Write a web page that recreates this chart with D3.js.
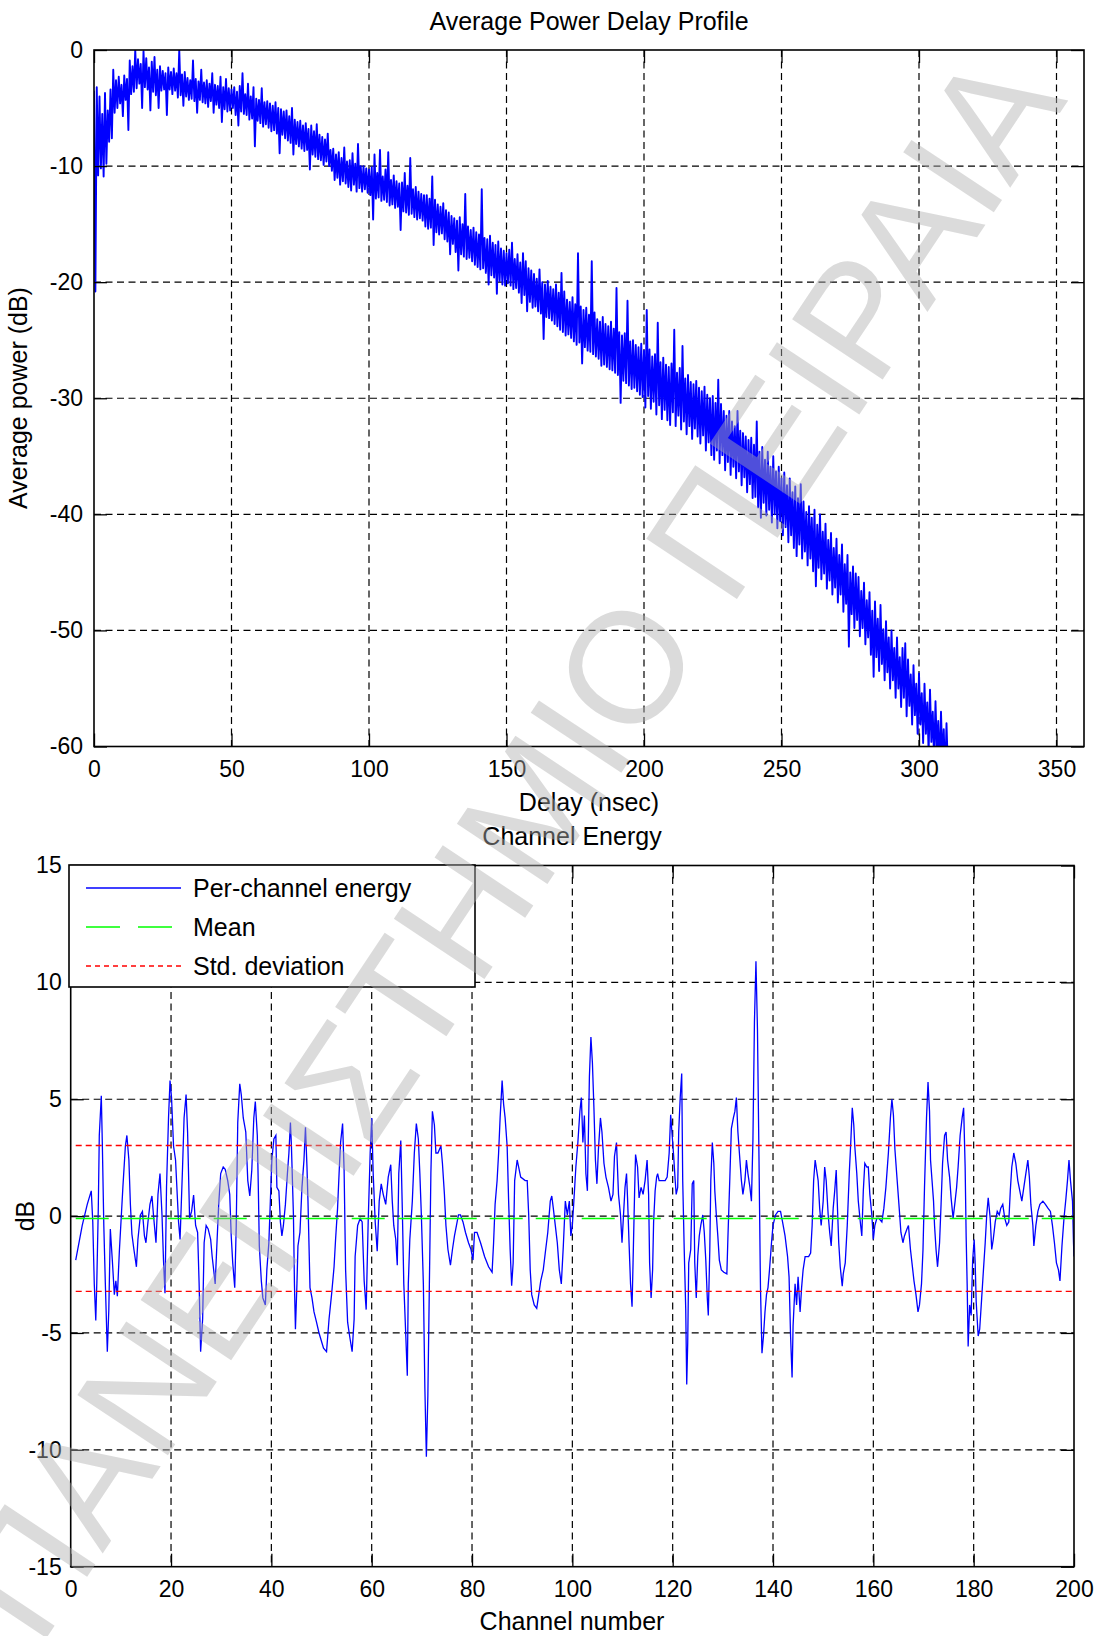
<!DOCTYPE html>
<html>
<head>
<meta charset="utf-8">
<script src="https://cdn.jsdelivr.net/npm/d3@7"></script>
<style>
  body { margin: 0; background: #fff; }
  svg { display: block; }
  text { font-family: "Liberation Sans", Arial, sans-serif; fill: #000; }
</style>
</head>
<body>
<svg id="fig" width="1096" height="1636"></svg>
<script>
// ---------- Average power delay profile: per-nanosecond upper / lower trace values (dB) ----------
const pdpHigh = [
  -3.5,-3.2,-4.0,-5.5,-3.7,-5.2,-3.4,-1.7,-2.6,-2.3, -3.0,-2.2,-2.5,-0.9,-1.4,0.0,-0.8,-1.2,-0.1,-0.7,
  -1.5,-1.0,-0.6,-1.7,-1.4,-1.8,-2.0,-1.5,-1.9,-1.6, -2.0,0.0,-2.1,-1.9,-2.4,-2.6,-0.9,-2.5,-2.7,-1.7,
  -2.8,-2.6,-2.9,-2.0,-3.0,-3.1,-2.3,-3.2,-2.5,-3.3, -3.4,-3.2,-3.6,-3.1,-2.0,-3.8,-2.9,-4.0,-3.2,-4.2,
  -4.3,-3.3,-4.5,-4.4,-4.6,-4.8,-4.5,-5.0,-5.1,-5.3, -5.2,-5.7,-5.0,-6.0,-6.2,-6.1,-6.5,-6.3,-6.8,-6.5,
  -7.0,-6.4,-7.3,-7.5,-7.7,-7.2,-8.6,-8.5,-9.0,-8.8, -9.3,-8.4,-9.6,-9.5,-8.9,-9.8,-8.1,-10.0,-10.0,-10.2,
  -10.3,-10.1,-9.0,-10.6,-8.6,-10.9,-10.3,-8.8,-11.2,-10.8, -11.3,-11.5,-11.4,-10.6,-11.7,-9.3,-12.0,-11.8,-12.2,-12.4,
  -12.5,-12.5,-12.8,-10.9,-12.9,-13.3,-13.5,-13.2,-13.8,-14.0, -14.3,-14.5,-14.7,-14.4,-15.0,-12.4,-15.2,-15.5,-15.3,-15.7,
  -15.9,-12.0,-16.2,-16.3,-16.0,-16.6,-16.8,-16.5,-17.1,-17.3, -17.5,-17.2,-16.6,-18.0,-17.6,-18.3,-17.5,-18.2,-18.8,-19.0,
  -19.3,-19.7,-18.9,-20.0,-20.2,-19.9,-20.4,-20.6,-20.2,-20.9, -19.2,-20.8,-21.5,-21.7,-21.3,-21.9,-17.5,-22.1,-22.4,-22.2,
  -22.8,-18.2,-22.6,-23.2,-23.4,-23.0,-23.6,-23.8,-23.4,-24.0, -20.5,-24.3,-24.6,-24.4,-21.6,-25.1,-25.0,-25.4,-25.6,-25.3,
  -25.9,-22.4,-25.8,-26.4,-26.2,-23.5,-26.9,-26.5,-27.1,-27.3, -27.0,-24.1,-27.8,-27.4,-25.5,-28.3,-28.0,-28.6,-28.8,-28.5,
  -29.1,-29.4,-29.0,-29.7,-30.0,-29.8,-30.4,-28.4,-30.5,-31.1, -31.5,-31.1,-32.0,-32.4,-31.1,-32.8,-33.0,-33.3,-33.6,-33.4,
  -34.0,-32.0,-34.6,-34.2,-35.3,-34.6,-35.9,-35.0,-36.3,-35.9, -36.9,-36.4,-37.5,-36.9,-38.1,-37.6,-38.6,-37.4,-38.9,-39.8,
  -39.3,-40.3,-39.6,-40.9,-40.0,-41.5,-40.8,-42.2,-41.6,-42.9, -42.1,-43.5,-42.6,-44.3,-43.5,-45.0,-44.5,-45.1,-45.4,-46.6,
  -45.9,-47.4,-46.7,-48.3,-47.5,-49.0,-47.8,-49.9,-49.2,-50.6, -50.0,-51.5,-50.6,-52.3,-51.5,-51.1,-52.5,-53.8,-53.0,-54.6,
  -53.7,-55.4,-54.6,-56.2,-55.1,-57.0,-56.1,-57.8,-57.0,-58.5, -58.0
];
const pdpLow = [
  -20.8,-10.8,-10.2,-10.9,-9.8,-7.9,-7.6,-5.4,-5.0,-4.6, -5.7,-4.3,-6.9,-3.8,-3.6,-3.3,-2.9,-5.0,-3.2,-3.4,
  -5.2,-3.6,-3.9,-5.0,-3.5,-3.4,-5.6,-3.4,-3.8,-3.5, -4.1,-3.9,-4.8,-4.0,-4.3,-4.2,-4.4,-5.4,-4.3,-4.5,
  -4.6,-4.9,-4.4,-5.4,-4.7,-5.0,-6.2,-5.1,-5.3,-5.2, -5.0,-5.6,-6.5,-5.3,-5.5,-5.6,-6.0,-5.9,-8.3,-6.1,
  -6.3,-6.6,-6.4,-6.7,-7.0,-6.9,-7.2,-8.9,-7.3,-7.6, -7.8,-8.0,-9.0,-8.1,-8.3,-8.5,-8.7,-8.6,-10.3,-9.0,
  -9.2,-9.4,-9.5,-9.9,-9.6,-10.0,-10.4,-11.2,-11.0,-11.6, -11.3,-11.5,-11.8,-12.1,-11.6,-12.2,-11.9,-12.2,-12.0,-12.3,
  -12.5,-14.6,-12.8,-12.7,-13.0,-12.9,-13.1,-13.4,-13.3,-13.6, -13.5,-15.5,-13.9,-14.0,-14.2,-14.1,-14.4,-14.6,-14.5,-14.7,
  -15.2,-15.4,-15.3,-16.8,-15.7,-15.9,-15.8,-16.3,-16.5,-17.6, -16.7,-17.4,-19.0,-17.6,-17.8,-18.0,-17.9,-18.2,-18.5,-18.7,
  -18.9,-18.8,-19.2,-20.2,-19.4,-19.6,-21.0,-19.9,-20.2,-20.3, -20.1,-20.3,-20.6,-20.5,-20.9,-21.8,-21.1,-22.5,-21.7,-22.2,
  -22.1,-22.5,-22.7,-24.9,-23.0,-23.1,-23.3,-23.6,-23.8,-24.1, -24.3,-24.6,-24.5,-24.8,-25.1,-25.4,-25.2,-27.0,-25.6,-25.9,
  -26.0,-26.2,-26.4,-26.6,-27.2,-27.1,-27.3,-27.5,-27.6,-27.8, -28.0,-30.4,-28.5,-28.7,-28.9,-29.2,-29.1,-29.4,-29.7,-29.9,
  -30.8,-29.8,-30.9,-30.3,-31.4,-30.6,-31.8,-31.0,-31.9,-32.3, -31.2,-32.4,-31.5,-32.7,-32.0,-33.1,-32.4,-33.5,-32.6,-33.3,
  -33.9,-33.2,-34.5,-33.8,-34.9,-35.3,-34.5,-35.6,-34.9,-36.2, -35.5,-36.6,-35.9,-36.9,-36.3,-37.5,-36.8,-38.1,-37.4,-38.6,
  -38.5,-39.4,-40.3,-39.0,-40.1,-39.6,-40.7,-40.0,-41.2,-40.6, -41.8,-41.1,-42.4,-41.8,-42.9,-43.6,-42.6,-43.8,-43.2,-44.4,
  -43.8,-44.9,-46.2,-44.6,-45.6,-45.1,-46.4,-45.7,-46.9,-46.3, -47.6,-46.9,-48.4,-47.7,-51.4,-48.6,-49.8,-49.1,-50.5,-49.8,
  -51.2,-50.6,-52.1,-54.0,-52.3,-53.5,-52.9,-54.3,-53.6,-55.0, -54.3,-55.8,-55.0,-56.6,-55.8,-57.4,-56.5,-58.1,-57.3,-58.9,
  -58.1,-59.7,-58.9,-60.5,-59.6,-61.2,-60.4,-62.0,-61.2,-62.8, -62.0
];
const delayTicks = [0, 50, 100, 150, 200, 250, 300, 350];
const powerTicks = [-60, -50, -40, -30, -20, -10, 0];

// ---------- Channel energy: [channel, dB] ----------
const channelEnergy = [
  [1.0,-1.88],[2.3,-0.4],[3.3,0.5],[4.1,1.08],[4.4,-0.25],[4.7,-2.9],[5.0,-4.47],[5.2,-2.85],[5.5,0.34],[5.7,3.45],
  [6.1,5.15],[6.3,3.15],[6.6,-0.4],[6.9,-2.85],[7.3,-5.8],[7.6,-4.0],[7.9,-0.55],[8.3,-1.9],[8.7,-3.36],[9.0,-2.77],
  [9.3,-3.43],[9.7,-1.5],[10.1,0.05],[10.4,1.23],[10.9,3.0],[11.2,3.45],[11.6,2.4],[11.9,0.5],[12.2,-0.77],[12.6,-1.43],
  [13.1,-2.17],[13.4,-1.0],[13.9,0.05],[14.3,0.2],[14.7,-0.85],[15.0,-1.14],[15.4,-0.25],[15.8,0.5],[16.2,0.86],[16.5,0.05],
  [17.0,-1.14],[17.4,0.93],[17.8,1.82],[18.2,0.05],[18.5,-1.9],[18.8,-3.3],[19.1,1.23],[19.5,4.2],[19.8,5.8],[20.1,5.07],
  [20.5,3.0],[20.9,2.4],[21.5,-0.25],[21.8,-1.0],[22.3,2.1],[22.6,4.2],[23.0,5.2],[23.3,3.6],[23.7,-0.1],[24.1,0.2],
  [24.5,0.9],[24.9,-0.4],[25.3,-0.7],[25.6,-2.9],[25.9,-5.8],[26.3,-4.4],[26.6,-1.14],[27.0,-0.4],[27.4,-0.55],[27.9,-1.0],
  [28.2,-1.73],[28.6,-2.5],[28.8,-2.9],[29.1,-1.43],[29.5,0.5],[29.9,1.82],[30.4,2.1],[30.8,2.0],[31.3,1.52],[31.7,0.93],
  [32.0,-0.85],[32.3,-2.0],[32.7,-3.06],[33.0,-0.4],[33.3,4.0],[33.7,5.66],[34.0,5.2],[34.4,4.2],[34.9,3.6],[35.3,1.52],
  [35.7,0.86],[36.1,1.97],[36.5,4.2],[36.8,4.9],[37.2,3.45],[37.4,1.23],[37.6,-1.28],[38.0,-2.77],[38.3,-3.5],[38.8,-3.8],
  [39.1,-2.3],[39.5,-1.14],[39.8,0.64],[40.1,2.4],[40.5,3.3],[40.9,3.45],[41.1,1.23],[41.5,1.08],[41.8,-0.25],[42.1,-0.85],
  [42.4,-0.4],[42.8,0.5],[43.2,1.82],[43.5,2.7],[43.8,4.0],[44.0,3.0],[44.4,0.05],[44.6,-2.9],[44.8,-4.84],[45.1,-2.9],
  [45.3,-1.28],[45.7,-0.7],[46.1,1.23],[46.5,2.4],[46.8,3.8],[47.1,2.1],[47.3,0.64],[47.7,-3.06],[48.1,-3.5],[48.5,-4.1],
  [49.0,-4.54],[49.5,-5.0],[50.4,-5.65],[51.0,-5.8],[51.5,-4.4],[52.0,-3.36],[52.5,-2.17],[52.8,-1.0],[53.2,0.34],[53.5,1.82],
  [53.8,3.15],[54.2,3.96],[54.5,1.97],[54.8,-2.3],[55.2,-4.54],[55.6,-5.13],[56.1,-5.8],[56.5,-4.4],[56.7,-1.73],[57.2,-0.4],
  [57.7,-0.1],[58.1,-0.25],[58.5,-2.77],[58.9,-4.0],[59.3,-0.25],[59.7,2.7],[60.0,4.2],[60.3,1.82],[60.7,-0.25],[61.1,-1.5],
  [61.5,0.64],[61.9,1.38],[62.3,0.93],[62.8,0.5],[63.3,1.67],[63.8,2.2],[64.1,0.64],[64.4,-0.4],[64.8,-1.0],[65.1,-2.1],
  [65.4,1.82],[65.8,3.23],[66.1,0.34],[66.4,-2.9],[66.8,-5.13],[67.1,-6.83],[67.3,-2.9],[67.6,-1.0],[68.1,0.64],[68.5,2.7],
  [68.9,3.96],[69.3,3.3],[69.6,1.82],[69.9,0.05],[70.3,-2.9],[70.6,-7.35],[70.9,-10.3],[71.2,-7.65],[71.5,-2.9],[71.8,1.82],
  [72.1,4.48],[72.5,3.9],[72.8,2.7],[73.2,2.7],[73.8,3.0],[74.1,2.26],[74.5,0.93],[74.8,-0.4],[75.2,-1.43],[75.7,-2.1],
  [76.1,-1.43],[76.5,-0.85],[76.9,-0.4],[77.3,0.05],[77.7,0.05],[78.2,-0.25],[78.7,-0.7],[79.3,-1.14],[79.8,-1.43],[80.2,-1.88],
  [80.5,-0.7],[81.0,-0.7],[81.7,-1.14],[82.5,-1.73],[83.3,-2.17],[84.0,-2.4],[84.3,-1.14],[84.6,0.5],[85.0,1.52],[85.3,2.7],
  [85.6,4.2],[86.0,5.8],[86.3,4.78],[86.6,4.2],[87.0,3.0],[87.3,0.64],[87.6,-1.43],[87.9,-2.98],[88.2,-2.0],[88.5,1.52],
  [89.0,2.4],[89.3,2.1],[89.7,1.67],[90.6,1.52],[91.0,1.52],[91.3,0.05],[91.6,-2.3],[91.9,-3.36],[92.4,-3.8],[92.9,-3.95],
  [93.3,-3.36],[93.7,-2.77],[94.2,-2.3],[94.6,-1.58],[95.1,-0.7],[95.6,0.64],[95.9,0.86],[96.2,0.34],[96.6,-0.4],[97.0,-1.14],
  [97.4,-2.3],[97.8,-2.9],[98.2,-1.28],[98.6,0.64],[99.0,0.05],[99.4,0.64],[99.7,-0.85],[100.0,-0.4],[100.3,0.64],[100.7,2.1],
  [101.1,3.15],[101.5,4.48],[101.8,5.07],[102.1,3.15],[102.4,4.3],[102.7,1.82],[103.0,1.08],[103.4,5.96],[103.7,7.66],[104.0,6.55],
  [104.3,4.63],[104.6,2.4],[104.9,1.38],[105.2,2.86],[105.6,4.2],[105.9,3.6],[106.3,2.26],[106.7,1.67],[107.2,1.23],[107.7,0.64],
  [108.1,0.93],[108.4,2.56],[108.8,3.15],[109.2,0.93],[109.6,0.05],[109.9,-1.14],[110.2,0.05],[110.5,1.23],[110.8,1.82],[111.0,0.78],
  [111.3,-1.14],[111.6,-2.9],[111.9,-3.88],[112.1,-2.0],[112.4,0.93],[112.6,2.63],[113.0,2.1],[113.3,0.78],[113.7,1.23],[114.1,0.93],
  [114.5,1.52],[114.9,2.4],[115.2,0.93],[115.4,-2.0],[115.7,-3.5],[116.0,-2.3],[116.2,-0.25],[116.5,1.08],[116.8,1.67],[117.0,1.82],
  [117.3,1.52],[118.5,1.52],[118.9,1.67],[119.3,2.7],[119.6,4.33],[119.9,3.45],[120.2,2.56],[120.5,1.52],[120.7,0.93],[121.0,1.23],
  [121.2,3.6],[121.5,5.07],[121.8,6.1],[122.0,1.52],[122.3,-1.43],[122.6,-3.95],[122.8,-7.2],[123.0,-5.4],[123.2,-2.0],[123.6,-1.43],
  [123.9,1.38],[124.2,1.52],[124.4,-2.0],[124.7,-3.5],[125.0,-1.73],[125.3,-0.85],[125.6,-0.4],[126.0,0.05],[126.3,-0.7],[126.6,-1.88],
  [126.9,-3.5],[127.1,-4.25],[127.4,-1.43],[127.6,1.52],[127.9,3.15],[128.2,2.26],[128.4,1.08],[128.7,0.05],[129.0,-0.85],[129.3,-1.88],
  [129.7,-2.3],[130.2,-2.4],[130.8,-2.47],[131.0,-1.0],[131.4,1.67],[131.7,3.74],[132.1,4.2],[132.4,4.48],[132.7,5.07],[133.0,3.6],
  [133.4,2.4],[133.7,1.52],[134.0,0.93],[134.4,1.52],[134.7,2.4],[135.0,1.82],[135.4,1.23],[135.7,0.64],[136.0,3.3],[136.3,8.33],
  [136.6,10.9],[136.9,8.0],[137.2,2.56],[137.5,-3.06],[137.8,-5.87],[138.1,-5.13],[138.4,-4.1],[138.7,-3.36],[139.0,-3.06],[139.3,-2.3],
  [139.7,-1.14],[140.0,-0.4],[140.5,0.05],[141.0,0.2],[141.5,0.2],[141.9,-0.25],[142.4,-0.85],[142.9,-1.73],[143.2,-2.6],[143.5,-5.13],
  [143.8,-6.9],[144.0,-4.7],[144.4,-2.9],[144.7,-3.8],[145.0,-2.6],[145.4,-4.1],[145.7,-3.06],[146.0,-2.3],[146.4,-1.73],[146.7,-1.73],
  [147.1,-1.73],[147.5,-1.58],[147.8,-0.4],[148.1,1.52],[148.4,2.4],[148.8,1.82],[149.0,1.52],[149.3,0.34],[149.6,-0.4],[150.0,0.64],
  [150.3,2.1],[150.6,1.52],[151.0,0.05],[151.3,-0.7],[151.6,-1.28],[152.0,0.34],[152.3,1.08],[152.6,1.97],[152.8,0.64],[153.1,-1.14],
  [153.4,-2.17],[153.8,-3.0],[154.0,-2.47],[154.4,-2.0],[154.8,-0.4],[155.2,1.82],[155.5,3.15],[155.8,4.63],[156.1,3.9],[156.3,3.0],
  [156.7,1.82],[157.0,0.64],[157.4,-0.25],[157.7,-0.85],[158.0,1.08],[158.3,2.26],[158.7,2.1],[159.0,2.1],[159.3,0.93],[159.7,0.05],
  [160.0,-1.0],[160.3,-0.4],[160.7,-0.1],[161.1,-0.1],[161.7,-0.25],[162.1,0.34],[162.5,1.23],[163.0,2.7],[163.4,4.2],[163.7,5.0],
  [164.0,4.33],[164.3,2.86],[164.7,1.67],[165.1,0.5],[165.5,-0.7],[165.9,-1.14],[166.2,-0.85],[166.7,-0.55],[167.0,-0.4],[167.4,-1.43],
  [167.7,-2.0],[168.1,-2.77],[168.5,-3.36],[168.9,-4.1],[169.2,-3.8],[169.6,-2.9],[169.9,-1.43],[170.2,1.23],[170.6,4.2],[170.9,5.74],
  [171.2,4.48],[171.4,2.4],[171.7,1.52],[172.0,0.64],[172.2,-0.4],[172.5,-1.43],[172.8,-2.17],[173.2,-1.14],[173.5,0.5],[173.8,2.26],
  [174.2,3.45],[174.5,3.6],[174.8,2.4],[175.2,1.67],[175.5,0.78],[175.9,-0.1],[176.3,0.64],[176.6,1.23],[176.9,2.1],[177.3,3.45],
  [177.7,4.2],[178.0,4.63],[178.3,2.1],[178.5,-0.85],[178.7,-2.9],[178.9,-5.58],[179.2,-3.8],[179.5,-4.25],[179.8,-1.88],[180.1,-1.0],
  [180.3,-2.0],[180.5,-3.65],[180.9,-5.13],[181.2,-4.84],[181.6,-3.5],[181.9,-2.47],[182.3,-1.14],[182.6,0.05],[182.9,0.78],[183.3,-0.1],
  [183.6,-1.43],[183.9,-1.0],[184.3,-0.25],[184.7,0.2],[185.1,0.05],[185.4,0.34],[185.8,0.5],[186.2,-0.1],[186.6,-0.4],[187.0,-0.25],
  [187.3,1.08],[187.6,2.1],[188.0,2.7],[188.4,2.26],[188.8,1.52],[189.2,1.08],[189.6,0.64],[190.0,1.23],[190.4,1.82],[190.8,2.4],
  [191.1,1.67],[191.4,0.5],[191.8,-0.4],[192.0,-1.28],[192.4,-0.4],[192.8,0.2],[193.2,0.5],[193.8,0.64],[194.3,0.5],[194.8,0.34],
  [195.3,0.2],[195.7,-0.4],[196.1,-1.14],[196.5,-2.0],[196.9,-2.3],[197.2,-2.77],[197.6,-1.28],[198.0,-0.1],[198.4,0.78],[198.7,1.52],
  [199.0,2.4],[199.3,1.52],[199.7,0.64],[199.9,-1.14],[200.0,-1.73]
];
const energyMean = -0.1;
const energyStd = 3.12;
const channelTicks = [0, 20, 40, 60, 80, 100, 120, 140, 160, 180, 200];
const dbTicks = [-15, -10, -5, 0, 5, 10, 15];
const legendLabels = ["Per-channel energy", "Mean", "Std. deviation"];
const watermarkText = "ΠΑΝΕΠΙΣΤΗΜΙΟ ΠΕΙΡΑΙΑ";

const svg = d3.select("#fig");
svg.append("rect").attr("width", 1096).attr("height", 1636).attr("fill", "#fff");

const GRID_DASH = "7,4.5";
const TICK = 13;

// Draws a boxed MATLAB-style axes with dashed grid, inward ticks on all sides.
function drawAxes(id, x, y, xTicks, yTicks, opts) {
  const [x0, x1] = x.range();
  const [y0, y1] = y.range(); // y0 bottom, y1 top
  const g = svg.append("g").attr("class", id);

  svg.append("clipPath").attr("id", id + "-clip")
    .append("rect").attr("x", x0).attr("y", y1).attr("width", x1 - x0).attr("height", y0 - y1);

  const grid = g.append("g").attr("stroke", "#000").attr("stroke-width", 1.2)
    .attr("stroke-dasharray", GRID_DASH).attr("fill", "none");
  xTicks.filter(d => d !== x.domain()[0] && d !== x.domain()[1]).forEach(d => {
    grid.append("line").attr("x1", x(d)).attr("x2", x(d)).attr("y1", y1).attr("y2", y0);
  });
  yTicks.filter(d => d !== y.domain()[0] && d !== y.domain()[1]).forEach(d => {
    grid.append("line").attr("x1", x0).attr("x2", x1).attr("y1", y(d)).attr("y2", y(d));
  });

  const plot = g.append("g").attr("clip-path", `url(#${id}-clip)`);
  const frame = g.append("g");

  const fmt = d => String(d);
  const style = sel => {
    sel.select(".domain").remove();
    sel.selectAll(".tick line").attr("stroke", "#000").attr("stroke-width", 1.3);
    sel.selectAll(".tick text").attr("fill", "#000")
      .style("font-family", '"Liberation Sans", Arial, sans-serif').style("font-size", "23px");
  };
  frame.append("g").attr("transform", `translate(0,${y0})`)
    .call(d3.axisBottom(x).tickValues(xTicks).tickSize(-TICK).tickPadding(opts.xPad).tickFormat(fmt)).call(style);
  frame.append("g").attr("transform", `translate(0,${y1})`)
    .call(d3.axisTop(x).tickValues(xTicks).tickSize(-TICK).tickFormat("")).call(style);
  frame.append("g").attr("transform", `translate(${x0},0)`)
    .call(d3.axisLeft(y).tickValues(yTicks).tickSize(-TICK).tickPadding(opts.yPad).tickFormat(fmt)).call(style);
  frame.append("g").attr("transform", `translate(${x1},0)`)
    .call(d3.axisRight(y).tickValues(yTicks).tickSize(-TICK).tickFormat("")).call(style);
  frame.append("rect").attr("x", x0).attr("y", y1).attr("width", x1 - x0).attr("height", y0 - y1)
    .attr("fill", "none").attr("stroke", "#000").attr("stroke-width", 1.6);

  return plot;
}

function label(txt, x, y, rotate) {
  const t = svg.append("text").attr("text-anchor", "middle").attr("font-size", 25).text(txt);
  if (rotate) t.attr("transform", `translate(${x},${y}) rotate(-90)`);
  else t.attr("x", x).attr("y", y);
  return t;
}

// ---------- Top panel: average power delay profile ----------
const xDelay = d3.scaleLinear().domain([0, 360]).range([94, 1084]);
const yPower = d3.scaleLinear().domain([-60, 0]).range([746.5, 50]);
const topPlot = drawAxes("pdp", xDelay, yPower, delayTicks, powerTicks, { xPad: 14, yPad: 11 });

// Each nanosecond bin contributes its upper then lower excursion.
const pdpPoints = [];
pdpHigh.forEach((hi, i) => {
  pdpPoints.push([i, hi]);
  pdpPoints.push([i + 0.5, pdpLow[i]]);
});
topPlot.append("path").datum(pdpPoints)
  .attr("fill", "none").attr("stroke", "#0000ff").attr("stroke-width", 1.9).attr("stroke-linejoin", "round")
  .attr("d", d3.line().x(d => xDelay(d[0])).y(d => yPower(d[1])));

label("Average Power Delay Profile", 589, 30);
label("Delay (nsec)", 589, 811);
label("Average power (dB)", 27, 398, true);

// ---------- Bottom panel: channel energy ----------
const xChan = d3.scaleLinear().domain([0, 200]).range([70.7, 1074]);
const yDb = d3.scaleLinear().domain([-15, 15]).range([1566.7, 865.5]);
const botPlot = drawAxes("energy", xChan, yDb, channelTicks, dbTicks, { xPad: 14, yPad: 9 });

botPlot.append("path").datum(channelEnergy)
  .attr("fill", "none").attr("stroke", "#0000ff").attr("stroke-width", 1.3)
  .attr("d", d3.line().x(d => xChan(d[0])).y(d => yDb(d[1])));

const chanSpan = [channelEnergy[0][0], channelEnergy[channelEnergy.length - 1][0]];
botPlot.append("line")
  .attr("x1", xChan(chanSpan[0])).attr("x2", xChan(chanSpan[1]))
  .attr("y1", yDb(energyMean)).attr("y2", yDb(energyMean))
  .attr("stroke", "#00ff00").attr("stroke-width", 1.5).attr("stroke-dasharray", "33,13");
[energyMean + energyStd, energyMean - energyStd].forEach(v => {
  botPlot.append("line")
    .attr("x1", xChan(chanSpan[0])).attr("x2", xChan(chanSpan[1]))
    .attr("y1", yDb(v)).attr("y2", yDb(v))
    .attr("stroke", "#ff0000").attr("stroke-width", 1.4).attr("stroke-dasharray", "6,4");
});

label("Channel Energy", 572, 845);
label("Channel number", 572, 1630);
label("dB", 34, 1216, true);

// Legend box in the upper-left corner of the energy axes
const legend = svg.append("g");
legend.append("rect").attr("x", 69).attr("y", 865).attr("width", 406).attr("height", 122)
  .attr("fill", "#fff").attr("stroke", "#000").attr("stroke-width", 1.6);
const legendStyles = [
  { color: "#0000ff", dash: null },
  { color: "#00ff00", dash: "34,18" },
  { color: "#ff0000", dash: "5,4" }
];
legendLabels.forEach((txt, i) => {
  const yy = 888 + i * 39;
  const ln = legend.append("line").attr("x1", 86).attr("x2", 181).attr("y1", yy).attr("y2", yy)
    .attr("stroke", legendStyles[i].color).attr("stroke-width", 1.5);
  if (legendStyles[i].dash) ln.attr("stroke-dasharray", legendStyles[i].dash);
  legend.append("text").attr("x", 193).attr("y", yy + 9).attr("font-size", 25).text(txt);
});

// Diagonal watermark across the whole figure
svg.append("text")
  .attr("transform", "translate(508,844) rotate(-56.4)")
  .attr("text-anchor", "middle").attr("dominant-baseline", "central")
  .attr("font-size", 158).style("fill", "#b0b0b0").attr("fill-opacity", 0.45)
  .text(watermarkText);
</script>
</body>
</html>
